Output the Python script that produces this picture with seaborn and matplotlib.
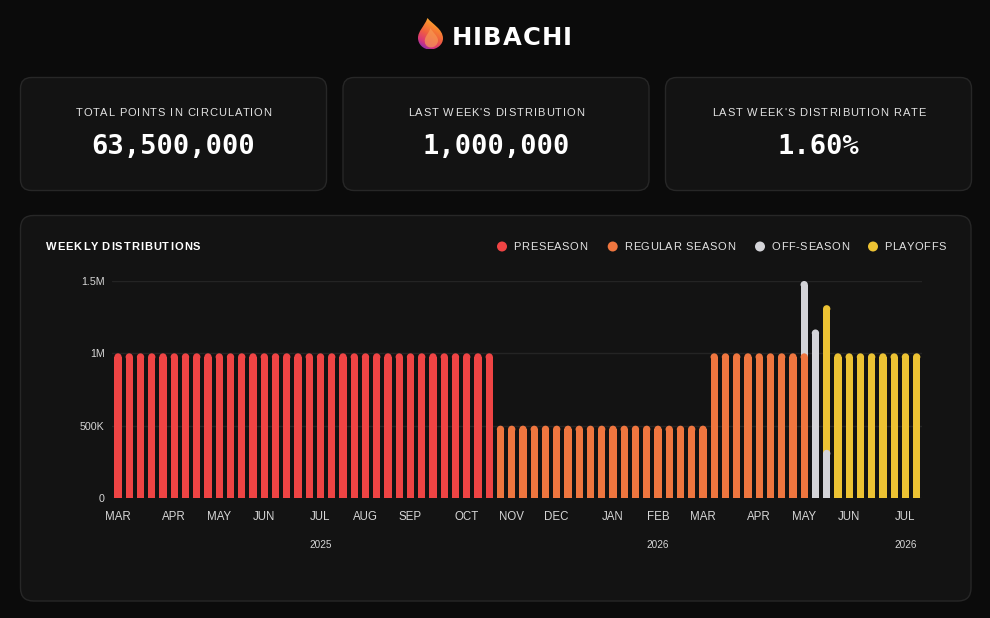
import numpy as np
import pandas as pd
import matplotlib
matplotlib.use("Agg")
import matplotlib.pyplot as plt
from matplotlib.patches import FancyBboxPatch, Ellipse, Circle, PathPatch
from matplotlib.path import Path
from matplotlib.colors import LinearSegmentedColormap
from matplotlib.font_manager import FontProperties
import seaborn as sns

# ── Дані ─────────────────────────────────────────────────────────
SEASONS = ["PRESEASON", "REGULAR SEASON", "OFF-SEASON", "PLAYOFFS"]
COLORS  = ["#ef4444", "#ef763f", "#d4d4d8", "#ecc233"]
WEEKS   = pd.date_range("2025-03-03", periods=72, freq="7D")   # weekly buckets

# weekly distributions, thousands of points, 12 weeks per row
PRESEASON_K = [1000, 1000, 1000, 1000, 1000, 1000, 1000, 1000, 1000, 1000, 1000, 1000,
               1000, 1000, 1000, 1000, 1000, 1000, 1000, 1000, 1000, 1000, 1000, 1000,
               1000, 1000, 1000, 1000, 1000, 1000, 1000, 1000, 1000, 1000,    0,    0,
                  0,    0,    0,    0,    0,    0,    0,    0,    0,    0,    0,    0,
                  0,    0,    0,    0,    0,    0,    0,    0,    0,    0,    0,    0,
                  0,    0,    0,    0,    0,    0,    0,    0,    0,    0,    0,    0]
REGULAR_K   = [   0,    0,    0,    0,    0,    0,    0,    0,    0,    0,    0,    0,
                  0,    0,    0,    0,    0,    0,    0,    0,    0,    0,    0,    0,
                  0,    0,    0,    0,    0,    0,    0,    0,    0,    0,  500,  500,
                500,  500,  500,  500,  500,  500,  500,  500,  500,  500,  500,  500,
                500,  500,  500,  500,  500, 1000, 1000, 1000, 1000, 1000, 1000, 1000,
               1000, 1000,    0,    0,    0,    0,    0,    0,    0,    0,    0,    0]
OFFSEASON_K = [   0,    0,    0,    0,    0,    0,    0,    0,    0,    0,    0,    0,
                  0,    0,    0,    0,    0,    0,    0,    0,    0,    0,    0,    0,
                  0,    0,    0,    0,    0,    0,    0,    0,    0,    0,    0,    0,
                  0,    0,    0,    0,    0,    0,    0,    0,    0,    0,    0,    0,
                  0,    0,    0,    0,    0,    0,    0,    0,    0,    0,    0,    0,
                  0,  500, 1165,  333,    0,    0,    0,    0,    0,    0,    0,    0]
PLAYOFFS_K  = [   0,    0,    0,    0,    0,    0,    0,    0,    0,    0,    0,    0,
                  0,    0,    0,    0,    0,    0,    0,    0,    0,    0,    0,    0,
                  0,    0,    0,    0,    0,    0,    0,    0,    0,    0,    0,    0,
                  0,    0,    0,    0,    0,    0,    0,    0,    0,    0,    0,    0,
                  0,    0,    0,    0,    0,    0,    0,    0,    0,    0,    0,    0,
                  0,    0,    0, 1000, 1000, 1000, 1000, 1000, 1000, 1000, 1000, 1000]

CARD_LABELS = ["TOTAL POINTS IN CIRCULATION", "LAST WEEK'S DISTRIBUTION",
               "LAST WEEK'S DISTRIBUTION RATE"]
CARD_VALUES = ["63,500,000", "1,000,000", "1.60%"]

Y_TICKS  = [0, 500_000, 1_000_000, 1_500_000]
Y_LABELS = ["0", "500K", "1M", "1.5M"]
YEAR_WEEKS  = ["2025-07-07", "2026-02-02", "2026-07-06"]
YEAR_LABELS = ["2025", "2026", "2026"]

BG, PANEL, BORDER = "#0b0b0b", "#131313", "#272727"
TXT = "#e2e2e2"

# ── Таблиця для seaborn ──────────────────────────────────────────
week_lbl = [d.strftime("%Y-%m-%d") for d in WEEKS]
stack = np.array([PRESEASON_K, REGULAR_K, OFFSEASON_K, PLAYOFFS_K], dtype=float) * 1000
tops = stack.cumsum(axis=0)
rows = []
for s, name in enumerate(SEASONS):
    for w in range(len(week_lbl)):
        if stack[s, w] > 0:
            rows.append({"week": week_lbl[w], "season": name, "top": tops[s, w]})
df = pd.DataFrame(rows)

sns.set_style("dark")
FAMILY = ["Liberation Sans", "DejaVu Sans"]
plt.rcParams["font.family"] = FAMILY

fig = plt.figure(figsize=(9.9, 6.18), dpi=100, facecolor=BG)
bg = fig.add_axes([0, 0, 1, 1])
bg.set_facecolor(BG)
bg.set_xlim(0, 990); bg.set_ylim(618, 0); bg.axis("off")
renderer = fig.canvas.get_renderer()


def spaced(x, y, s, track, ha="left", size=8, weight="normal", color=TXT, family=FAMILY):
    """текст з розрядкою (letter-spacing) у піксельних координатах bg"""
    prop = FontProperties(family=family, size=size, weight=weight)
    wid = lambda t: renderer.get_text_width_height_descent(t, prop, ismath=False)[0]
    ref = wid("I")
    offs = [0.0] + [wid(s[:k] + "I") - ref for k in range(1, len(s))]
    total = wid(s) + track * (len(s) - 1)
    x0 = x - {"left": 0, "center": total / 2, "right": total}[ha]
    for k, ch in enumerate(s):
        if ch != " ":
            bg.text(x0 + offs[k] + k * track, y, ch, fontproperties=prop,
                    color=color, va="baseline", ha="left")


# ── Логотип ──────────────────────────────────────────────────────
flame = Path([(430, 49.5), (423, 49.5), (418, 44), (418, 38),
              (418, 31), (424, 27), (427.5, 18),
              (432, 24), (443, 29), (443, 38.5),
              (443, 44.5), (437, 49.5), (430, 49.5)],
             [Path.MOVETO] + [Path.CURVE4] * 12)
fp = PathPatch(flame, facecolor="none", edgecolor="none")
bg.add_patch(fp)
gy, gx = np.mgrid[0:1:60j, 0:1:50j]
grad = 0.75 * gy + 0.35 * (1 - gx) - 0.1
cmap = LinearSegmentedColormap.from_list("fl", ["#fcc43a", "#f98a30", "#f0603f", "#d9367a", "#6a2bc4"])
im = bg.imshow(grad, cmap=cmap, extent=(418, 443, 49.5, 18), origin="upper",
               aspect="auto", vmin=0, vmax=1)
im.set_clip_path(fp)
inner = Path([(431, 47.5), (426, 47.5), (424, 43), (425, 39),
              (426, 35), (429, 33), (430.5, 28),
              (433, 33), (438, 36), (438, 40.5),
              (438, 44.5), (434.5, 47.5), (431, 47.5)],
             [Path.MOVETO] + [Path.CURVE4] * 12)
bg.add_patch(PathPatch(inner, facecolor="#f79a52", edgecolor="none", alpha=0.7))
bg.set_xlim(0, 990); bg.set_ylim(618, 0)
spaced(451.5, 45, "HIBACHI", 1.1, size=17.5, weight="bold", color="white",
       family=["DejaVu Sans"])

# ── Картки ───────────────────────────────────────────────────────
for i, (lab, val) in enumerate(zip(CARD_LABELS, CARD_VALUES)):
    x0 = 20.5 + i * 322.5
    bg.add_patch(FancyBboxPatch((x0, 77.5), 306, 113,
                                boxstyle="round,pad=0,rounding_size=11",
                                facecolor=PANEL, edgecolor=BORDER, lw=1))
    cx = x0 + 153
    spaced(cx, 116, lab, 1.0, ha="center", size=8)
    bg.text(cx, 153.5, val, color="white", fontsize=19.5, fontweight="bold",
            family="DejaVu Sans Mono", ha="center", va="baseline")

# ── Панель графіка ───────────────────────────────────────────────
bg.add_patch(FancyBboxPatch((20.5, 215.5), 950.5, 385.5,
                            boxstyle="round,pad=0,rounding_size=13",
                            facecolor=PANEL, edgecolor=BORDER, lw=1))
spaced(45.5, 250, "WEEKLY DISTRIBUTIONS", 1.0, size=8, weight="bold", color="white")
for cx, name, col in zip([502, 612.7, 760, 873], SEASONS, COLORS):
    bg.add_patch(Circle((cx, 246.5), 5, facecolor=col, edgecolor="none"))
    spaced(cx + 11.5, 250.5, name, 0.6, size=8)

ax = fig.add_axes([112.4 / 990, 1 - 498 / 618, (922.3 - 112.4) / 990, (498 - 281) / 618])
sns.barplot(data=df, x="week", y="top", hue="season", order=week_lbl,
            hue_order=SEASONS[::-1], palette=dict(zip(SEASONS, COLORS)),
            dodge=False, width=0.65, saturation=1, errorbar=None,
            legend=False, linewidth=0, ax=ax)

ax.set_facecolor("none")
ax.set_xlim(-0.5, len(week_lbl) - 0.5)
ax.set_ylim(0, 1_500_000)
for sp in ax.spines.values():
    sp.set_visible(False)
ax.set_xlabel(""); ax.set_ylabel("")
ax.grid(False)
ax.yaxis.grid(True, color="#242424", lw=1)
ax.set_axisbelow(True)
ax.set_yticks(Y_TICKS, Y_LABELS)
ax.tick_params(axis="y", length=0, pad=5.7, labelsize=7.7, labelcolor="#d6d6d6")
for t in ax.get_yticklabels():
    t.set_verticalalignment("center_baseline")

# місячні мітки: перший тиждень кожного місяця
wk = pd.Series(WEEKS)
first = wk.groupby(wk.dt.to_period("M")).head(1).index
ax.set_xticks(list(first), [WEEKS[j].strftime("%b").upper() for j in first])
ax.tick_params(axis="x", length=0, pad=9.5, labelsize=8.3, labelcolor="#d6d6d6")
for wd, yl in zip(YEAR_WEEKS, YEAR_LABELS):
    ax.text(week_lbl.index(wd), -50 / 217, yl, transform=ax.get_xaxis_transform(),
            ha="center", va="baseline", fontsize=7.2, color="#d6d6d6")

# заокруглені верхівки стовпчиків
px_x = ax.transData.transform((1, 0))[0] - ax.transData.transform((0, 0))[0]
px_y = ax.transData.transform((0, 1e6))[1] - ax.transData.transform((0, 0))[1]
for rect in list(ax.patches):
    h, w = rect.get_height(), rect.get_width()
    if h <= 0:
        continue
    ry = (w * px_x / 2) / px_y * 1e6
    rect.set_height(h - ry)
    rect.set_clip_on(False)
    ax.add_patch(Ellipse((rect.get_x() + w / 2, h - ry), w, 2 * ry,
                         facecolor=rect.get_facecolor(), edgecolor="none",
                         lw=0, clip_on=False))

fig.savefig("out.png", dpi=100, facecolor=BG)
